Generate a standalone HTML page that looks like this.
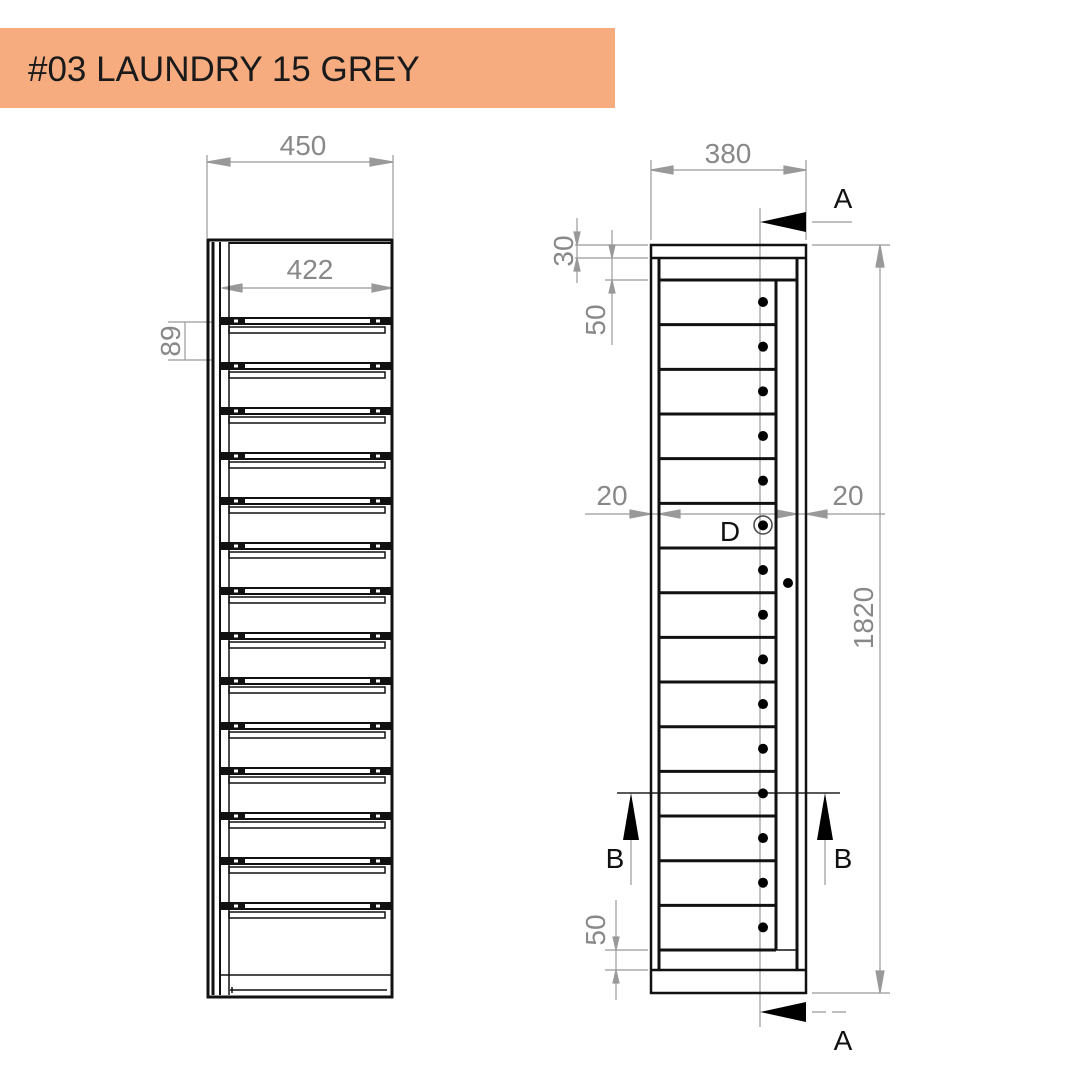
<!DOCTYPE html>
<html><head><meta charset="utf-8"><style>
html,body{margin:0;padding:0;background:#fff;}
svg{display:block;font-family:"Liberation Sans",sans-serif;}
</style></head><body>
<svg width="1090" height="1090" viewBox="0 0 1090 1090" xmlns="http://www.w3.org/2000/svg">
<rect x="0" y="28" width="615" height="80" fill="#F7AC80"/>
<text x="28" y="81" font-size="35" fill="#1a1a1a">#03 LAUNDRY 15 GREY</text>

<g stroke="#999" stroke-width="1.2" fill="#999">
<!-- left dims -->
<line x1="207" y1="155" x2="207" y2="238"/><line x1="393" y1="155" x2="393" y2="238"/>
<line x1="207" y1="162" x2="393" y2="162"/>
<polygon points="207,162 230,158 230,166"/><polygon points="393,162 370,158 370,166"/>
<line x1="222" y1="288" x2="392" y2="288"/>
<polygon points="222,288 242,284 242,292"/><polygon points="392,288 372,284 372,292"/>
<line x1="168" y1="322" x2="212" y2="322"/><line x1="168" y1="360" x2="212" y2="360"/>
<line x1="185" y1="322" x2="185" y2="360"/>
<!-- right dims -->
<line x1="651" y1="160" x2="651" y2="240"/><line x1="806" y1="160" x2="806" y2="240"/>
<line x1="651" y1="170" x2="806" y2="170"/>
<polygon points="651,170 673,166 673,174"/><polygon points="806,170 784,166 784,174"/>
<line x1="812" y1="245" x2="890" y2="245"/><line x1="812" y1="993" x2="890" y2="993"/>
<line x1="880" y1="245" x2="880" y2="993"/>
<polygon points="880,245 876,267 884,267"/><polygon points="880,993 876,971 884,971"/>
<line x1="575" y1="245" x2="648" y2="245"/><line x1="575" y1="258" x2="648" y2="258"/><line x1="605" y1="280" x2="648" y2="280"/>
<line x1="577" y1="218" x2="577" y2="283"/>
<polygon points="577,245 574,232 580,232"/><polygon points="577,258 574,271 580,271"/>
<line x1="612" y1="230" x2="612" y2="345"/>
<polygon points="612,258 609,245 615,245"/><polygon points="612,280 609,293 615,293"/>
<line x1="605" y1="950" x2="648" y2="950"/><line x1="605" y1="970" x2="648" y2="970"/>
<line x1="616" y1="900" x2="616" y2="1000"/>
<polygon points="616,950 613,937 619,937"/><polygon points="616,970 613,983 619,983"/>
<line x1="585" y1="514" x2="885" y2="514"/>
<polygon points="651,514 630,510 630,518"/><polygon points="659,514 680,510 680,518"/>
<polygon points="797,514 776,510 776,518"/><polygon points="806,514 827,510 827,518"/>
<line x1="760" y1="208" x2="760" y2="1027"/>
<line x1="812" y1="222" x2="852" y2="222"/>
<line x1="812" y1="1012" x2="852" y2="1012" stroke-dasharray="14,6"/>
<line x1="631" y1="840" x2="631" y2="885"/><line x1="825" y1="840" x2="825" y2="885"/>
</g>
<g fill="#888" font-size="28">
<text x="303" y="155" text-anchor="middle">450</text>
<text x="310" y="279" text-anchor="middle">422</text>
<text x="728" y="163" text-anchor="middle">380</text>
<text x="612" y="505" text-anchor="middle">20</text>
<text x="848" y="505" text-anchor="middle">20</text>
<text transform="translate(180,341) rotate(-90)" text-anchor="middle">89</text>
<text transform="translate(573,251) rotate(-90)" text-anchor="middle">30</text>
<text transform="translate(605,320) rotate(-90)" text-anchor="middle">50</text>
<text transform="translate(605,930) rotate(-90)" text-anchor="middle">50</text>
<text transform="translate(873,618) rotate(-90)" text-anchor="middle">1820</text>
</g>
<g fill="#111" font-size="28">
<text x="843" y="208" text-anchor="middle">A</text>
<text x="843" y="1050" text-anchor="middle">A</text>
<text x="615" y="868" text-anchor="middle">B</text>
<text x="843" y="868" text-anchor="middle">B</text>
<text x="730" y="541" text-anchor="middle">D</text>
</g>
<!-- arrows black -->
<polygon points="760,222 806,212 806,232" fill="#000"/>
<polygon points="760,1012 806,1002 806,1022" fill="#000"/>
<line x1="617" y1="793" x2="840" y2="793" stroke="#222" stroke-width="1.5"/>
<polygon points="631,793 623,840 639,840" fill="#000"/>
<polygon points="825,793 817,840 833,840" fill="#000"/>

<!-- left drawing -->
<g stroke="#111" fill="none">
<rect x="208" y="240" width="184" height="757" stroke-width="3"/>
<line x1="213" y1="242" x2="213" y2="995" stroke-width="3"/>
<line x1="220" y1="242" x2="220" y2="995" stroke-width="2"/>
<line x1="229" y1="242" x2="229" y2="995" stroke-width="1.5"/>
<line x1="229" y1="243" x2="392" y2="243" stroke-width="2"/>
<line x1="220" y1="975" x2="392" y2="975" stroke-width="1.5"/>
<line x1="230" y1="990" x2="387" y2="990" stroke-width="1.5"/>
<line x1="232" y1="993" x2="232" y2="987" stroke-width="1.5"/>
</g>
<g id="shelves" stroke="#111" fill="none">
</g>
<!-- right drawing -->
<g stroke="#111" fill="none">
<rect x="651" y="245" width="155" height="748" stroke-width="2.5"/>
<line x1="651" y1="258" x2="806" y2="258" stroke-width="2.5"/>
<line x1="651" y1="970" x2="806" y2="970" stroke-width="2.5"/>
<line x1="659" y1="258" x2="659" y2="970" stroke-width="3"/>
<line x1="797" y1="258" x2="797" y2="970" stroke-width="3"/>
<line x1="659" y1="280" x2="797" y2="280" stroke-width="3"/>
<line x1="776" y1="280" x2="776" y2="950" stroke-width="3"/>
<line x1="659" y1="950" x2="797" y2="950" stroke-width="1.5"/>
<line x1="659" y1="950" x2="776" y2="950" stroke-width="3"/>
<circle cx="763" cy="525" r="9" stroke="#444" stroke-width="1.5"/>
</g>
<circle cx="788" cy="583" r="5" fill="#000"/>
<script>
(function(){
var ns="http://www.w3.org/2000/svg",s=document.querySelector('svg');
function el(t,a){var e=document.createElementNS(ns,t);for(var k in a)e.setAttribute(k,a[k]);s.appendChild(e);return e;}
for(var i=0;i<14;i++){var y=320+i*45;
el('rect',{x:220,y:y-3,width:172,height:8,fill:'#111'});
el('rect',{x:245,y:y-1,width:125,height:4,fill:'#fff'});
el('rect',{x:234,y:y-0.5,width:4,height:3,fill:'#fff'});
el('rect',{x:376,y:y-0.5,width:4,height:3,fill:'#fff'});
el('rect',{x:229,y:y+7,width:156,height:6,fill:'none',stroke:'#111','stroke-width':1.5});
}
for(var j=1;j<15;j++){var yy=280+j*44.67;
el('line',{x1:659,y1:yy,x2:776,y2:yy,stroke:'#111','stroke-width':3});}
for(var k=0;k<15;k++){el('circle',{cx:763,cy:302+k*44.67,r:5,fill:'#000'});}
})();
</script>
</svg>
</body></html>
